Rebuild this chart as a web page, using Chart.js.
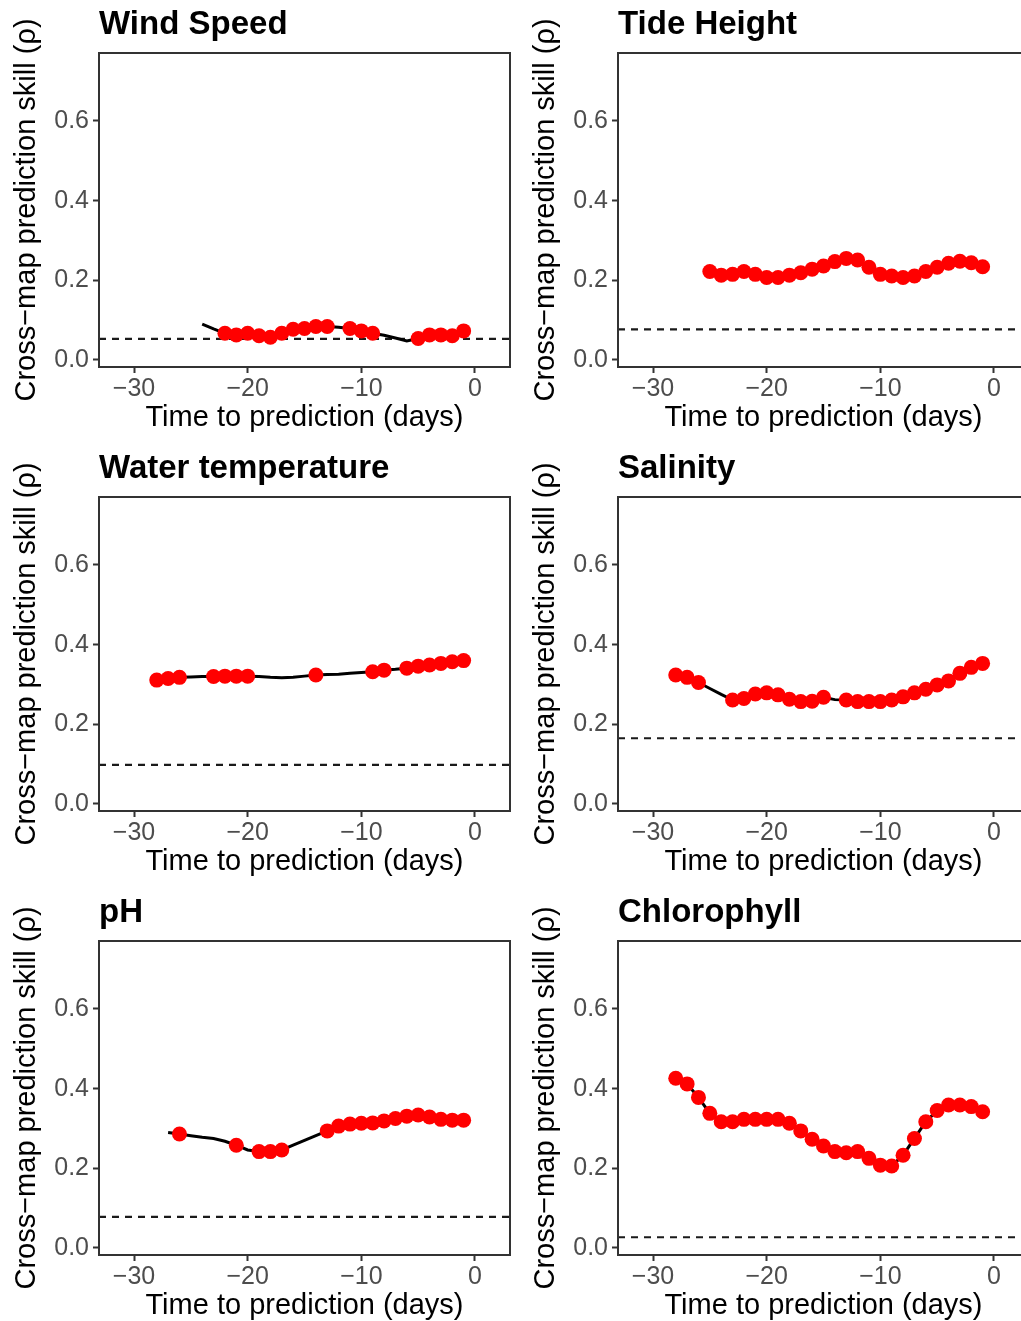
<!DOCTYPE html>
<html>
<head>
<meta charset="utf-8">
<title>Cross-map prediction skill</title>
<script src="https://cdn.jsdelivr.net/npm/chart.js@4.4.1/dist/chart.umd.min.js"></script>
<style>
  html, body { margin: 0; padding: 0; background: #fff; overflow: hidden; width: 1021px; height: 1321px; }
  .panel { position: absolute; }
</style>
</head>
<body>
<div class="panel" style="left:0;top:0"><canvas id="c0" width="520" height="444"></canvas></div>
<div class="panel" style="left:519px;top:0"><canvas id="c1" width="520" height="444"></canvas></div>
<div class="panel" style="left:0;top:444px"><canvas id="c2" width="520" height="444"></canvas></div>
<div class="panel" style="left:519px;top:444px"><canvas id="c3" width="520" height="444"></canvas></div>
<div class="panel" style="left:0;top:888px"><canvas id="c4" width="520" height="444"></canvas></div>
<div class="panel" style="left:519px;top:888px"><canvas id="c5" width="520" height="444"></canvas></div>
<script>
// days before prediction
const days = [-28, -27, -26, -25, -24, -23, -22, -21, -20, -19, -18, -17, -16, -15,
              -14, -13, -12, -11, -10, -9, -8, -7, -6, -5, -4, -3, -2, -1];
const xTicks = [-30, -20, -10, 0];
const yTicks = [0.0, 0.2, 0.4, 0.6];

const titles = ['Wind Speed', 'Tide Height', 'Water temperature', 'Salinity', 'pH', 'Chlorophyll'];

// cross-map skill (rho), one value per day, null = not computed
const windSkill = [null, null, null, null, 0.090, 0.078, 0.067, 0.063, 0.067, 0.061, 0.057, 0.067, 0.077, 0.079,
                   0.084, 0.084, 0.082, 0.079, 0.073, 0.067, 0.062, 0.055, 0.048, 0.054, 0.063, 0.063, 0.061, 0.073];
const tideSkill = [null, null, null, 0.222, 0.213, 0.215, 0.222, 0.215, 0.207, 0.207, 0.213, 0.219, 0.228, 0.236,
                   0.247, 0.255, 0.251, 0.233, 0.215, 0.211, 0.207, 0.211, 0.222, 0.233, 0.243, 0.248, 0.244, 0.234];
const waterSkill = [0.311, 0.315, 0.318, 0.319, 0.320, 0.320, 0.321, 0.321, 0.321, 0.320, 0.318, 0.317, 0.318, 0.321,
                    0.324, 0.325, 0.326, 0.328, 0.330, 0.332, 0.336, 0.338, 0.341, 0.346, 0.349, 0.353, 0.357, 0.360];
const salSkill = [0.324, 0.318, 0.305, 0.290, 0.275, 0.261, 0.265, 0.276, 0.279, 0.274, 0.263, 0.257, 0.258, 0.268,
                  0.262, 0.261, 0.257, 0.257, 0.257, 0.261, 0.269, 0.279, 0.288, 0.299, 0.309, 0.328, 0.343, 0.353];
const phSkill = [null, 0.290, 0.286, 0.282, 0.278, 0.275, 0.268, 0.258, 0.246, 0.242, 0.242, 0.246, 0.258, 0.270,
                 0.282, 0.294, 0.306, 0.311, 0.313, 0.314, 0.319, 0.325, 0.331, 0.334, 0.329, 0.323, 0.321, 0.321];
const chlSkill = [0.426, 0.412, 0.378, 0.338, 0.317, 0.317, 0.323, 0.323, 0.323, 0.323, 0.313, 0.294, 0.273, 0.256,
                  0.242, 0.239, 0.242, 0.225, 0.208, 0.206, 0.233, 0.275, 0.317, 0.345, 0.359, 0.359, 0.355, 0.342];

// days that get a red marker
const windPts = [-22, -21, -20, -19, -18, -17, -16, -15, -14, -13, -11, -10, -9, -5, -4, -3, -2, -1];
const tidePts = [-25, -24, -23, -22, -21, -20, -19, -18, -17, -16, -15, -14, -13, -12, -11, -10, -9, -8,
                 -7, -6, -5, -4, -3, -2, -1];
const waterPts = [-28, -27, -26, -23, -22, -21, -20, -14, -9, -8, -6, -5, -4, -3, -2, -1];
const salPts = [-28, -27, -26, -23, -22, -21, -20, -19, -18, -17, -16, -15, -13, -12, -11, -10, -9, -8,
                -7, -6, -5, -4, -3, -2, -1];
const phPts = [-26, -21, -19, -18, -17, -13, -12, -11, -10, -9, -8, -7, -6, -5, -4, -3, -2, -1];
const chlPts = [-28, -27, -26, -25, -24, -23, -22, -21, -20, -19, -18, -17, -16, -15, -14, -13, -12, -11,
                -10, -9, -8, -7, -6, -5, -4, -3, -2, -1];

// dashed significance level
const thresholds = [0.053, 0.077, 0.098, 0.165, 0.078, 0.027];

const skills = [windSkill, tideSkill, waterSkill, salSkill, phSkill, chlSkill];
const pointDays = [windPts, tidePts, waterPts, salPts, phPts, chlPts];

const FONT = "'Liberation Sans', Arial, Helvetica, sans-serif";

const framePlugin = {
  id: 'frame',
  beforeDatasetsDraw(chart, args, opts) {
    const { ctx, chartArea: a, scales: { y } } = chart;
    const yy = y.getPixelForValue(opts.threshold);
    ctx.save();
    ctx.strokeStyle = '#1a1a1a';
    ctx.lineWidth = 2.2;
    ctx.setLineDash([7, 6]);
    ctx.beginPath();
    ctx.moveTo(a.left, yy);
    ctx.lineTo(a.right, yy);
    ctx.stroke();
    ctx.restore();
  },
  afterDraw(chart) {
    const { ctx, chartArea: a } = chart;
    ctx.save();
    ctx.strokeStyle = '#333333';
    ctx.lineWidth = 2;
    ctx.strokeRect(a.left, a.top, a.right - a.left, a.bottom - a.top);
    ctx.restore();
  }
};

function makeChart(i) {
  const skill = skills[i];
  const lineData = days.map((d, k) => ({ x: d, y: skill[k] }));
  const ptData = pointDays[i].map(d => ({ x: d, y: skill[days.indexOf(d)] }));

  new Chart(document.getElementById('c' + i), {
    type: 'scatter',
    data: {
      datasets: [
        {
          data: ptData,
          backgroundColor: '#ff0000',
          borderWidth: 0,
          pointRadius: 7.5,
          order: 0
        },
        {
          type: 'line',
          data: lineData,
          borderColor: '#000000',
          borderWidth: 3,
          pointRadius: 0,
          spanGaps: false,
          order: 1
        }
      ]
    },
    options: {
      responsive: false,
      animation: false,
      events: [],
      layout: { padding: { left: 0, right: 10, top: 0, bottom: 0 } },
      plugins: {
        legend: { display: false },
        tooltip: { enabled: false },
        title: {
          display: true,
          text: titles[i],
          align: 'start',
          fullSize: false,
          color: '#000',
          font: { family: FONT, size: 33, weight: 'bold', lineHeight: 1 },
          padding: { top: 8, bottom: 12 }
        },
        frame: { threshold: thresholds[i] }
      },
      scales: {
        x: {
          type: 'linear',
          min: -33.08,
          max: 3.08,
          afterBuildTicks: s => { s.ticks = xTicks.map(v => ({ value: v })); },
          afterFit: s => { s.height = 77; },
          grid: { drawOnChartArea: false, drawTicks: true, tickLength: 6, tickColor: '#333', tickWidth: 2 },
          border: { display: false },
          ticks: {
            color: '#4d4d4d',
            padding: 1,
            font: { family: FONT, size: 25 },
            callback: v => (v < 0 ? '\u2212' + Math.abs(v) : String(v))
          },
          title: {
            display: true,
            text: 'Time to prediction (days)',
            color: '#000',
            font: { family: FONT, size: 29, lineHeight: 1 },
            padding: { top: 0, bottom: 11.5 }
          }
        },
        y: {
          min: -0.0176,
          max: 0.7707,
          afterBuildTicks: s => { s.ticks = yTicks.map(v => ({ value: v })); },
          afterFit: s => { s.width = 99; },
          grid: { drawOnChartArea: false, drawTicks: true, tickLength: 6, tickColor: '#333', tickWidth: 2 },
          border: { display: false },
          ticks: {
            color: '#4d4d4d',
            padding: 4,
            font: { family: FONT, size: 25 },
            callback: v => v.toFixed(1)
          },
          title: {
            display: true,
            text: 'Cross\u2212map prediction skill (\u03c1)',
            color: '#000',
            font: { family: FONT, size: 29, lineHeight: 1 },
            padding: { top: 12.5, bottom: 0 }
          }
        }
      }
    },
    plugins: [framePlugin]
  });
}

for (let i = 0; i < 6; i++) makeChart(i);
</script>
</body>
</html>
